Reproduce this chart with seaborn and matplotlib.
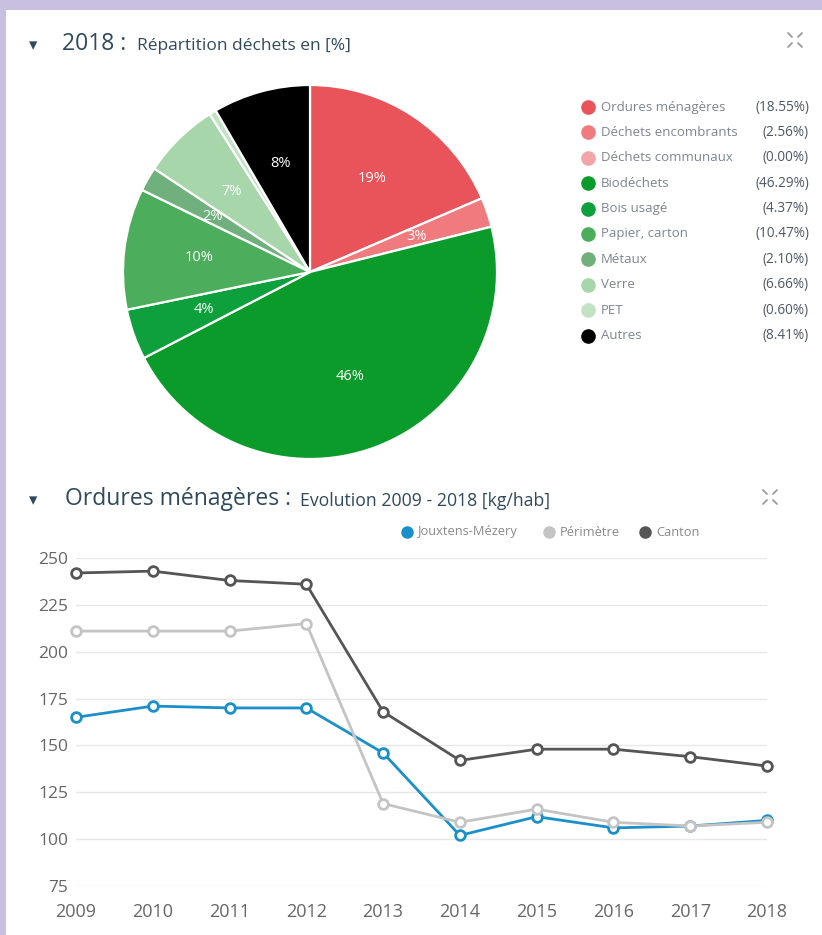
import matplotlib
matplotlib.use("Agg")
import matplotlib.pyplot as plt
from matplotlib.lines import Line2D
from matplotlib.patches import Rectangle
import seaborn as sns
import pandas as pd

# ---------------- data ----------------
pie_categories = ["Ordures ménagères", "Déchets encombrants", "Déchets communaux",
                  "Biodéchets", "Bois usagé", "Papier, carton", "Métaux",
                  "Verre", "PET", "Autres"]
pie_shares = [18.55, 2.56, 0.00, 46.29, 4.37, 10.47, 2.10, 6.66, 0.60, 8.41]
pie_colors = ["#e9535a", "#ef7b7e", "#f3a5a7", "#0b9b2b", "#0ea03c",
              "#4cae5c", "#70b07c", "#a6d6a9", "#c2e3c3", "#000000"]

years = [2009, 2010, 2011, 2012, 2013, 2014, 2015, 2016, 2017, 2018]
jouxtens = [165, 171, 170, 170, 146, 102, 112, 106, 107, 110]
perimetre = [211, 211, 211, 215, 119, 109, 116, 109, 107, 109]
canton = [242, 243, 238, 236, 168, 142, 148, 148, 144, 139]
series_names = ["Jouxtens-Mézery", "Périmètre", "Canton"]
series_colors = ["#1a8fc9", "#c4c4c4", "#555555"]
y_ticks = [75, 100, 125, 150, 175, 200, 225, 250]

# ---------------- style ----------------
sns.set_theme(style="white")
plt.rcParams["font.family"] = ["Open Sans", "DejaVu Sans"]

W, H = 822, 935
fig = plt.figure(figsize=(W / 100, H / 100), dpi=100, facecolor="white")

def fx(px):
    return px / W

def fy(py):
    return 1 - py / H

lav = "#c9c0e1"
fig.add_artist(Rectangle((0, fy(10)), 1, 10 / H, transform=fig.transFigure,
                         facecolor=lav, edgecolor="none", zorder=-10))
fig.add_artist(Rectangle((0, 0), 6 / W, 1, transform=fig.transFigure,
                         facecolor=lav, edgecolor="none", zorder=-10))

title_col = "#2f4a5e"

# ---------------- titles ----------------
fig.text(fx(33), fy(45), "▾", fontsize=12, color=title_col, ha="center", va="center",
         family="DejaVu Sans")
fig.text(fx(62), fy(44), "2018 :", fontsize=16.5, color=title_col, ha="left", va="center")
fig.text(fx(137), fy(46), "Répartition déchets en [%]", fontsize=12.5, color=title_col,
         ha="left", va="center")

fig.text(fx(33), fy(500), "▾", fontsize=12, color=title_col, ha="center", va="center",
         family="DejaVu Sans")
fig.text(fx(65), fy(499), "Ordures ménagères :", fontsize=16.5, color=title_col,
         ha="left", va="center")
fig.text(fx(300), fy(501), "Evolution 2009 - 2018 [kg/hab]", fontsize=12.7,
         color=title_col, ha="left", va="center")

# expand icons
def expand_icon(cx, cy):
    for dx, dy in [(-1, -1), (1, -1), (-1, 1), (1, 1)]:
        x0, y0 = cx + dx * 3, cy + dy * 3
        x1, y1 = cx + dx * 7, cy + dy * 7
        fig.add_artist(Line2D([fx(x0), fx(x1)], [fy(y0), fy(y1)],
                              transform=fig.transFigure, color="#9a9a9a", lw=1.3))
expand_icon(795, 40)
expand_icon(770, 497)

# ---------------- pie ----------------
cx, cy, r = 310, 272, 187
ax_pie = fig.add_axes([fx(cx - r), fy(cy + r), 2 * r / W, 2 * r / H])
wedges, texts, autotexts = ax_pie.pie(
    pie_shares, colors=pie_colors, startangle=90, counterclock=False,
    autopct=lambda p: f"{p:.0f}%" if p >= 1 else "", pctdistance=0.6,
    wedgeprops=dict(edgecolor="white", linewidth=1.6),
    textprops=dict(color="white", fontsize=10.5))
ax_pie.set_xlim(-1, 1)
ax_pie.set_ylim(-1, 1)
ax_pie.set_aspect("equal")
ax_pie.axis("off")

# pie legend
leg_y0, leg_dy = 107, 25.4
for i, (name, val, col) in enumerate(zip(pie_categories, pie_shares, pie_colors)):
    yy = leg_y0 + i * leg_dy
    fig.add_artist(Line2D([fx(588)], [fy(yy)], marker="o", markersize=9.5,
                          color=col, markeredgecolor=col, transform=fig.transFigure))
    fig.text(fx(601), fy(yy), name, fontsize=9.5, color="#7d8590", ha="left",
             va="center")
    fig.text(fx(809), fy(yy), f"({val:.2f}%)", fontsize=9.8, color="#4e5866",
             ha="right", va="center")

# ---------------- line chart ----------------
df = pd.DataFrame({
    "year": years * 3,
    "value": jouxtens + perimetre + canton,
    "series": [series_names[0]] * len(years) + [series_names[1]] * len(years)
              + [series_names[2]] * len(years),
})

x0, x1 = 76, 767
y_top, y_bot = 558, 886
ax = fig.add_axes([fx(x0), fy(y_bot), (x1 - x0) / W, (y_bot - y_top) / H])
sns.lineplot(data=df, x="year", y="value", hue="series",
             hue_order=series_names, palette=series_colors,
             marker="o", markersize=7, linewidth=2, legend=False, ax=ax)
for ln in ax.lines:
    c = ln.get_color()
    ln.set_markeredgecolor(c)
    ln.set_markerfacecolor("white")
    ln.set_markeredgewidth(2)
    ln.set_clip_on(False)

ax.set_xlim(years[0], years[-1])
ax.set_ylim(y_ticks[0], y_ticks[-1])
ax.set_xticks(years)
ax.set_xticklabels([str(y) for y in years])
ax.set_yticks(y_ticks)
ax.grid(axis="y", color="#e8e8e8", linewidth=1)
ax.grid(axis="x", visible=False)
ax.set_axisbelow(True)
for s in ax.spines.values():
    s.set_visible(False)
ax.tick_params(axis="both", length=0, labelcolor="#666666", labelsize=12.5)
ax.tick_params(axis="x", labelsize=13, pad=12)
ax.tick_params(axis="y", pad=5.5)
ax.set_xlabel("")
ax.set_ylabel("")
ax.set_facecolor("none")

# line legend
leg_items = [(407, 418), (549, 560), (645, 656)]
for (mx, tx), name, col in zip(leg_items, series_names, series_colors):
    fig.add_artist(Line2D([fx(mx)], [fy(532)], marker="o", markersize=8,
                          color=col, markeredgecolor=col, transform=fig.transFigure))
    fig.text(fx(tx), fy(532), name, fontsize=9.3, color="#8a8a8a", ha="left",
             va="center")

fig.savefig("out.png", dpi=100, facecolor="white")
